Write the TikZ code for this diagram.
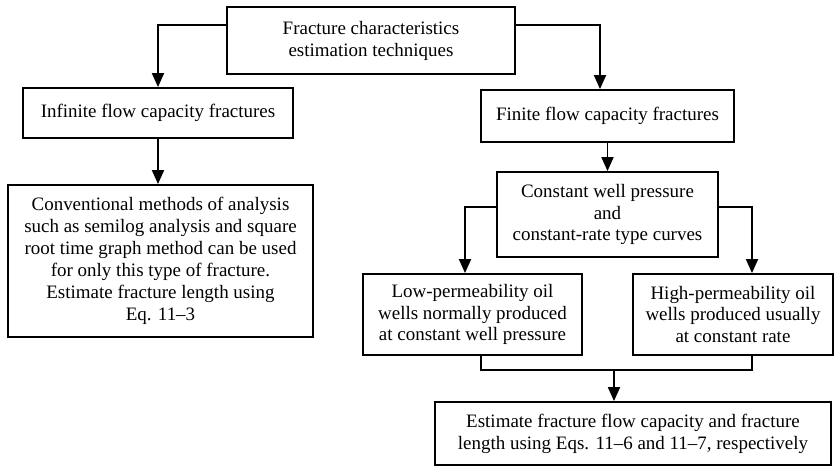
\documentclass[tikz,border=0pt]{standalone}
\usepackage{fontspec}
\setmainfont{Liberation Serif}
\usetikzlibrary{arrows.meta}

\begin{document}
\begin{tikzpicture}[
    box/.style={draw, line width=1.3pt, minimum width=#1, inner sep=2pt, align=center, font=\fontsize{13.5}{15.6}\selectfont},
    arr/.style={line width=1.3pt, -{Triangle[width=0.3cm,length=0.35cm]}}
  ]
    \useasboundingbox (0,0) rectangle (20.925,-11.75);
    \node[box=7.2cm, minimum height=1.675cm] (top) at (9.275,-1.0125) {Fracture characteristics\\estimation techniques};
    \node[box=6.75cm, minimum height=1.25cm] (inf) at (3.95,-2.825) {Infinite flow capacity fractures};
    \node[box=6.325cm, minimum height=1.3cm] (fin) at (15.1875,-2.9) {Finite flow capacity fractures};
    \node[box=7.625cm, minimum height=3.8cm] (conv) at (4.0125,-6.525) {Conventional methods of analysis\\such as semilog analysis and square\\root time graph method can be used\\for only this type of fracture.\\Estimate fracture length using\\Eq. 11--3};
    \node[box=5.525cm, minimum height=2.125cm] (cwp) at (15.1875,-5.3625) {Constant well pressure\\and\\constant-rate type curves};
    \node[box=5.475cm, minimum height=2.025cm] (low) at (11.8125,-7.8625) {Low-permeability oil\\wells normally produced\\at constant well pressure};
    \node[box=5cm, minimum height=2.025cm] (high) at (18.325,-7.8625) {High-permeability oil\\wells produced usually\\at constant rate};
    \node[box=9.9cm, minimum height=1.575cm] (est) at (15.825,-10.8375) {Estimate fracture flow capacity and fracture\\length using Eqs. 11--6 and 11--7, respectively};
    \coordinate (join) at (15.35,-9.25);
    \draw[arr] ([yshift=0.3875cm]top.west) -| (inf.north);
    \draw[arr] ([yshift=0.3875cm]top.east) -| ([xshift=-0.1875cm]fin.north);
    \draw[arr] (inf.south) -- (inf.south |- conv.north);
    \draw[arr] (fin.south) -- (cwp.north);
    \draw[arr] ([yshift=0.1875cm]cwp.west) -| ([xshift=-0.1875cm]low.north);
    \draw[arr] ([yshift=0.1875cm]cwp.east) -| ([xshift=0.475cm]high.north);
    \draw[line width=1.3pt] ([xshift=0.2125cm]low.south) |- (join) -| ([xshift=0.475cm]high.south);
    \draw[arr] (join) -- (join |- est.north);
  \end{tikzpicture}
\end{document}
